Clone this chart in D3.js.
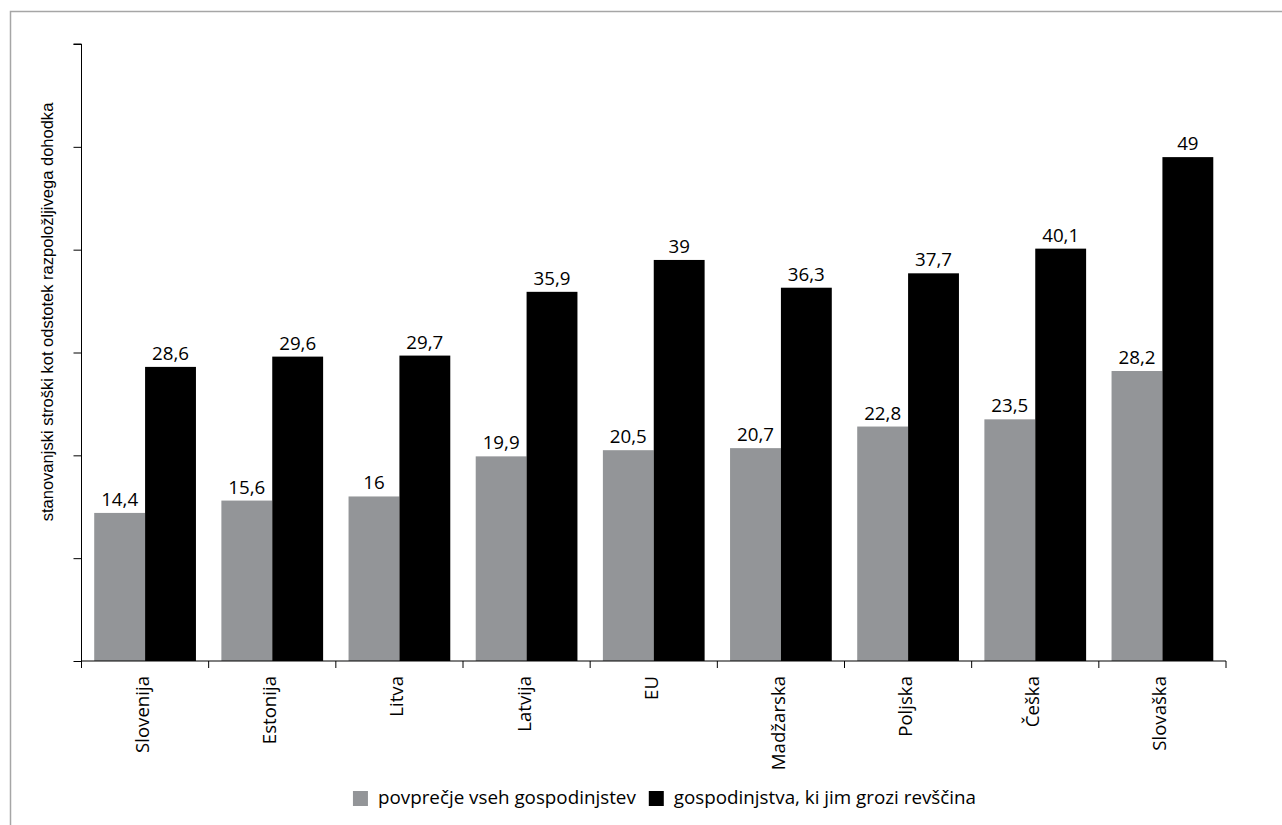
<!DOCTYPE html>
<html>
<head>
<meta charset="utf-8">
<script src="https://cdn.jsdelivr.net/npm/d3@7"></script>
<style>
  html, body { margin: 0; padding: 0; background: #fff; }
  svg { display: block; }
</style>
</head>
<body>
<svg id="chart" width="1282" height="825"></svg>
<script>
const categories = ["Slovenija", "Estonija", "Litva", "Latvija", "EU", "Madžarska", "Poljska", "Češka", "Slovaška"];
const seriesNames = ["povprečje vseh gospodinjstev", "gospodinjstva, ki jim grozi revščina"];
const averageValues = [14.4, 15.6, 16, 19.9, 20.5, 20.7, 22.8, 23.5, 28.2];
const povertyValues = [28.6, 29.6, 29.7, 35.9, 39, 36.3, 37.7, 40.1, 49];
const yTicks = [0, 10, 20, 30, 40, 50, 60];
const yTitle = "stanovanjski stroški kot odstotek razpoložljivega dohodka";
const colors = ["#939598", "#000000"];

const svg = d3.select("#chart");
const labelFont = "'Open Sans', sans-serif";
const titleFont = "'Liberation Sans', Arial, sans-serif";

// size a font so that a sample string reaches a target width
function fitSize(family, sample, target) {
  const t = svg.append("text").attr("font-family", family).attr("font-size", "20px").text(sample);
  const w = t.node().getComputedTextLength();
  t.remove();
  return 20 * target / w;
}
const catSize = fitSize(labelFont, "Slovenija", 77);
const valSize = fitSize(labelFont, "28,6", 37);
const legSize = fitSize(labelFont, "povprečje vseh gospodinjstev", 258);
const titleSize = fitSize(titleFont, yTitle, 419);

// outer frame
svg.append("rect")
  .attr("x", 10.5).attr("y", 11.5)
  .attr("width", 1400).attr("height", 1000)
  .attr("fill", "none").attr("stroke", "#a6a6a6").attr("stroke-width", 1.5);

const plot = { left: 81.5, right: 1226, top: 44, bottom: 661 };

const x0 = d3.scaleBand().domain(categories).range([plot.left, plot.right]).padding(0);
const x1 = d3.scaleBand().domain([0, 1]).range([0, x0.bandwidth()]).paddingInner(0).paddingOuter(0.25);
const y = d3.scaleLinear().domain([0, 60]).range([plot.bottom, plot.top]);

const rows = categories.map((c, i) => ({ cat: c, vals: [averageValues[i], povertyValues[i]] }));

// bars
const groups = svg.append("g").selectAll("g").data(rows).join("g")
  .attr("transform", d => `translate(${x0(d.cat)},0)`);

groups.selectAll("rect").data(d => d.vals.map((v, s) => ({ v, s }))).join("rect")
  .attr("x", d => x1(d.s))
  .attr("width", x1.bandwidth())
  .attr("y", d => y(d.v))
  .attr("height", d => y(0) - y(d.v))
  .attr("fill", d => colors[d.s]);

// value labels
const fmt = v => String(v).replace(".", ",");
groups.selectAll("text").data(d => d.vals.map((v, s) => ({ v, s }))).join("text")
  .attr("x", d => x1(d.s) + x1.bandwidth() / 2)
  .attr("y", d => y(d.v) - 7)
  .attr("text-anchor", "middle")
  .attr("font-family", labelFont)
  .attr("font-size", valSize + "px")
  .attr("fill", "#000")
  .text(d => fmt(d.v));

// y axis
const yAxis = d3.axisLeft(y).tickValues(yTicks).tickSize(8).tickFormat("");
const gy = svg.append("g").attr("transform", `translate(${plot.left},0)`).call(yAxis);
gy.select(".domain").attr("stroke", "#000").attr("d", `M-8,${y(60)}H0V${y(0)}`);
gy.selectAll(".tick line").attr("stroke", "#000");

// x axis line and ticks at band boundaries
const gx = svg.append("g");
gx.append("line")
  .attr("x1", plot.left).attr("x2", plot.right)
  .attr("y1", y(0)).attr("y2", y(0))
  .attr("stroke", "#000");
const edges = categories.map(c => x0(c)).concat([x0.range()[1]]);
gx.selectAll("line.tick").data(edges).join("line")
  .attr("class", "tick")
  .attr("x1", d => d).attr("x2", d => d)
  .attr("y1", y(0)).attr("y2", y(0) + 7)
  .attr("stroke", "#000");

// category labels
svg.append("g").selectAll("text").data(categories).join("text")
  .attr("transform", d => `translate(${x0(d) + x0.bandwidth() / 2 + 4},676) rotate(-90)`)
  .attr("text-anchor", "end")
  .attr("font-family", labelFont)
  .attr("font-size", catSize + "px")
  .attr("fill", "#000")
  .text(d => d);

// y title
svg.append("text")
  .attr("transform", `translate(53,312) rotate(-90)`)
  .attr("text-anchor", "middle")
  .attr("font-family", titleFont)
  .attr("font-size", titleSize + "px")
  .attr("fill", "#000")
  .text(yTitle);

// legend
const legend = svg.append("g");
const items = legend.selectAll("g").data(seriesNames).join("g");
items.append("rect").attr("width", 15).attr("height", 15).attr("y", 791)
  .attr("fill", (d, i) => colors[i]);
items.append("text").attr("x", 25).attr("y", 804)
  .attr("font-family", labelFont).attr("font-size", legSize + "px").attr("fill", "#000")
  .text(d => d);
let widths = [];
items.each(function () { widths.push(d3.select(this).select("text").node().getComputedTextLength()); });
const gap = 13;
const total = widths.reduce((a, w) => a + 25 + w, 0) + gap;
let cx = 664.5 - total / 2;
items.each(function (d, i) {
  d3.select(this).attr("transform", `translate(${cx},0)`);
  cx += 25 + widths[i] + gap;
});
</script>
</body>
</html>
